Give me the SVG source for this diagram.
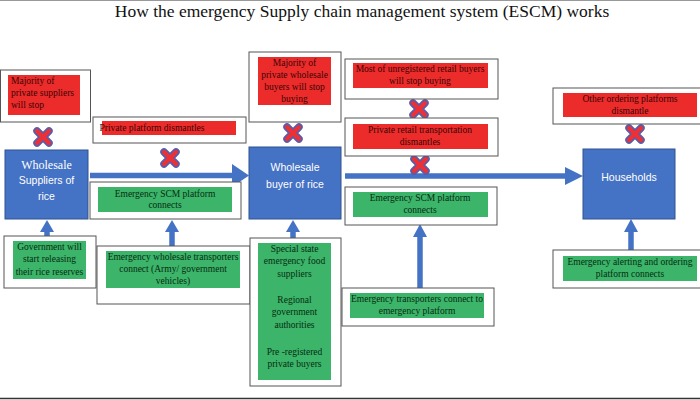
<svg xmlns="http://www.w3.org/2000/svg" width="700" height="400" viewBox="0 0 700 400">
<defs>
<style>
.frame{fill:#fff;stroke:#555;stroke-width:1}
.red{fill:#ec2b2b}
.green{fill:#3cb46a}
.blue{fill:#4472c4;stroke:#2f528f;stroke-width:1}
.t{font-family:"Liberation Serif","Times New Roman",serif;font-size:9.5px;text-anchor:middle}
.tr{fill:#3a0505}
.tg{fill:#062d10}
.bt{font-family:"Liberation Sans",Arial,sans-serif;font-size:10.5px;fill:#fff;text-anchor:middle}
.bts{font-family:"Liberation Serif","Times New Roman",serif;font-size:12px;fill:#fff;text-anchor:middle}
.shaft{stroke:#4472c4;stroke-width:5.5;fill:none}
.head{fill:#4472c4}
</style>
<g id="xmark">
<path d="M-6,-6L6,6M6,-6L-6,6" stroke="#5a5ca8" stroke-width="7.5" stroke-linecap="round" fill="none"/>
<path d="M-6,-6L6,6M6,-6L-6,6" stroke="#ee3035" stroke-width="4" stroke-linecap="round" fill="none"/>
</g>
</defs>
<rect width="700" height="400" fill="#fff"/>
<line x1="0" y1="0.5" x2="700" y2="0.5" stroke="#999" stroke-width="1"/>
<line x1="0" y1="398.5" x2="700" y2="398.5" stroke="#333" stroke-width="1.5"/>
<text x="362" y="17" font-family="Liberation Serif,'Times New Roman',serif" font-size="17.5" fill="#111" text-anchor="middle">How the emergency Supply chain management system (ESCM) works</text>

<g id="connectors">
<line class="shaft" x1="90" y1="175.5" x2="234" y2="175.5"/>
<polygon class="head" points="232,164 249,175.5 232,187"/>
<line class="shaft" x1="345" y1="176" x2="567" y2="176"/>
<polygon class="head" points="565,167 583,176 565,185"/>
<line class="shaft" x1="47" y1="236" x2="47" y2="230"/>
<polygon class="head" points="40,232 47,220 54,232"/>
<line class="shaft" x1="172" y1="246" x2="172" y2="230"/>
<polygon class="head" points="165,232 172,220 179,232"/>
<line class="shaft" x1="293" y1="238" x2="293" y2="230"/>
<polygon class="head" points="286,232 293,220 300,232"/>
<line class="shaft" x1="420" y1="288" x2="420" y2="234"/>
<polygon class="head" points="413,237 420,224 427,237"/>
<line class="shaft" x1="631" y1="250" x2="631" y2="230"/>
<polygon class="head" points="624,232 631,219 638,232"/>
</g>

<g id="x-marks">
<use href="#xmark" x="43" y="137"/>
<use href="#xmark" x="170" y="158"/>
<use href="#xmark" x="293" y="133"/>
<use href="#xmark" x="419" y="109"/>
<use href="#xmark" x="420" y="165"/>
<use href="#xmark" x="635" y="134"/>
</g>

<g id="n-private-suppliers">
<rect class="frame" x="0.5" y="70" width="90" height="52"/>
<rect class="red" x="8" y="75" width="72" height="40"/>
<text class="t tr" x="11" y="84" text-anchor="start" style="text-anchor:start">Majority of</text>
<text class="t tr" x="11" y="96" style="text-anchor:start">private suppliers</text>
<text class="t tr" x="11" y="108" style="text-anchor:start">will stop</text>
</g>

<g id="n-wholesale-suppliers">
<rect class="blue" x="5" y="150" width="83" height="69"/>
<text class="bts" x="46.5" y="169">Wholesale</text>
<text class="bt" x="46.5" y="184">Suppliers of</text>
<text class="bt" x="46.5" y="200">rice</text>
</g>

<g id="n-private-platform">
<rect class="frame" x="93" y="117" width="153" height="26"/>
<rect class="red" x="102" y="121" width="134" height="14"/>
<text class="t tr" x="152" y="131">Private platform dismantles</text>
</g>

<g id="n-scm-1">
<rect class="frame" x="90" y="182" width="151" height="37"/>
<rect class="green" x="98" y="187" width="134" height="25"/>
<text class="t tg" x="165" y="197">Emergency SCM platform</text>
<text class="t tg" x="165" y="208">connects</text>
</g>

<g id="n-government">
<rect class="frame" x="4" y="236" width="92" height="52"/>
<rect class="green" x="13" y="241" width="73" height="38"/>
<text class="t tg" x="49.5" y="250">Government will</text>
<text class="t tg" x="49.5" y="262">start releasing</text>
<text class="t tg" x="49.5" y="275">their rice reserves</text>
</g>

<g id="n-wholesale-transporters">
<rect class="frame" x="97" y="246" width="153" height="58"/>
<rect class="green" x="106" y="251" width="134" height="37"/>
<text class="t tg" x="173" y="260">Emergency wholesale transporters</text>
<text class="t tg" x="173" y="272">connect (Army/ government</text>
<text class="t tg" x="173" y="284">vehicles)</text>
</g>

<g id="n-private-wholesale-buyers">
<rect class="frame" x="249" y="52" width="92" height="70"/>
<rect class="red" x="258" y="57" width="73" height="48"/>
<text class="t tr" x="294.5" y="66">Majority of</text>
<text class="t tr" x="294.5" y="78">private wholesale</text>
<text class="t tr" x="294.5" y="90">buyers will stop</text>
<text class="t tr" x="294.5" y="102">buying</text>
</g>

<g id="n-wholesale-buyer">
<rect class="blue" x="249" y="147" width="92" height="72"/>
<text class="bt" x="295" y="171">Wholesale</text>
<text class="bt" x="295" y="188">buyer of rice</text>
</g>

<g id="n-special-state">
<rect class="frame" x="250" y="238" width="91" height="148"/>
<rect class="green" x="258" y="243" width="73" height="137"/>
<text class="t tg" x="294.5" y="252">Special state</text>
<text class="t tg" x="294.5" y="264">emergency food</text>
<text class="t tg" x="294.5" y="277">suppliers</text>
<text class="t tg" x="294.5" y="303">Regional</text>
<text class="t tg" x="294.5" y="315">government</text>
<text class="t tg" x="294.5" y="328">authorities</text>
<text class="t tg" x="294.5" y="355">Pre -registered</text>
<text class="t tg" x="294.5" y="367">private buyers</text>
</g>

<g id="n-unregistered-retail">
<rect class="frame" x="345" y="59" width="153" height="40"/>
<rect class="red" x="353" y="63" width="135" height="25"/>
<text class="t tr" x="420" y="72">Most of unregistered retail buyers</text>
<text class="t tr" x="420" y="84">will stop buying</text>
</g>

<g id="n-retail-transport">
<rect class="frame" x="345" y="118" width="153" height="38"/>
<rect class="red" x="353" y="124" width="135" height="25"/>
<text class="t tr" x="420" y="133">Private retail transportation</text>
<text class="t tr" x="420" y="145">dismantles</text>
</g>

<g id="n-scm-2">
<rect class="frame" x="345" y="187" width="152" height="38"/>
<rect class="green" x="353" y="192" width="135" height="25"/>
<text class="t tg" x="420" y="201">Emergency SCM platform</text>
<text class="t tg" x="420" y="213">connects</text>
</g>

<g id="n-emergency-transporters">
<rect class="frame" x="342" y="288" width="152" height="38"/>
<rect class="green" x="350" y="293" width="134" height="25"/>
<text class="t tg" x="417" y="302">Emergency transporters connect to</text>
<text class="t tg" x="417" y="314">emergency platform</text>
</g>

<g id="n-other-ordering">
<rect class="frame" x="553" y="88" width="150" height="36"/>
<rect class="red" x="563" y="93" width="134" height="24"/>
<text class="t tr" x="630" y="102">Other ordering platforms</text>
<text class="t tr" x="630" y="114">dismantle</text>
</g>

<g id="n-households">
<rect class="blue" x="583" y="149" width="92" height="70"/>
<text class="bt" x="629" y="181">Households</text>
</g>

<g id="n-alerting">
<rect class="frame" x="553" y="250" width="150" height="38"/>
<rect class="green" x="563" y="256" width="134" height="25"/>
<text class="t tg" x="630" y="265">Emergency alerting and ordering</text>
<text class="t tg" x="630" y="277">platform connects</text>
</g>
</svg>
